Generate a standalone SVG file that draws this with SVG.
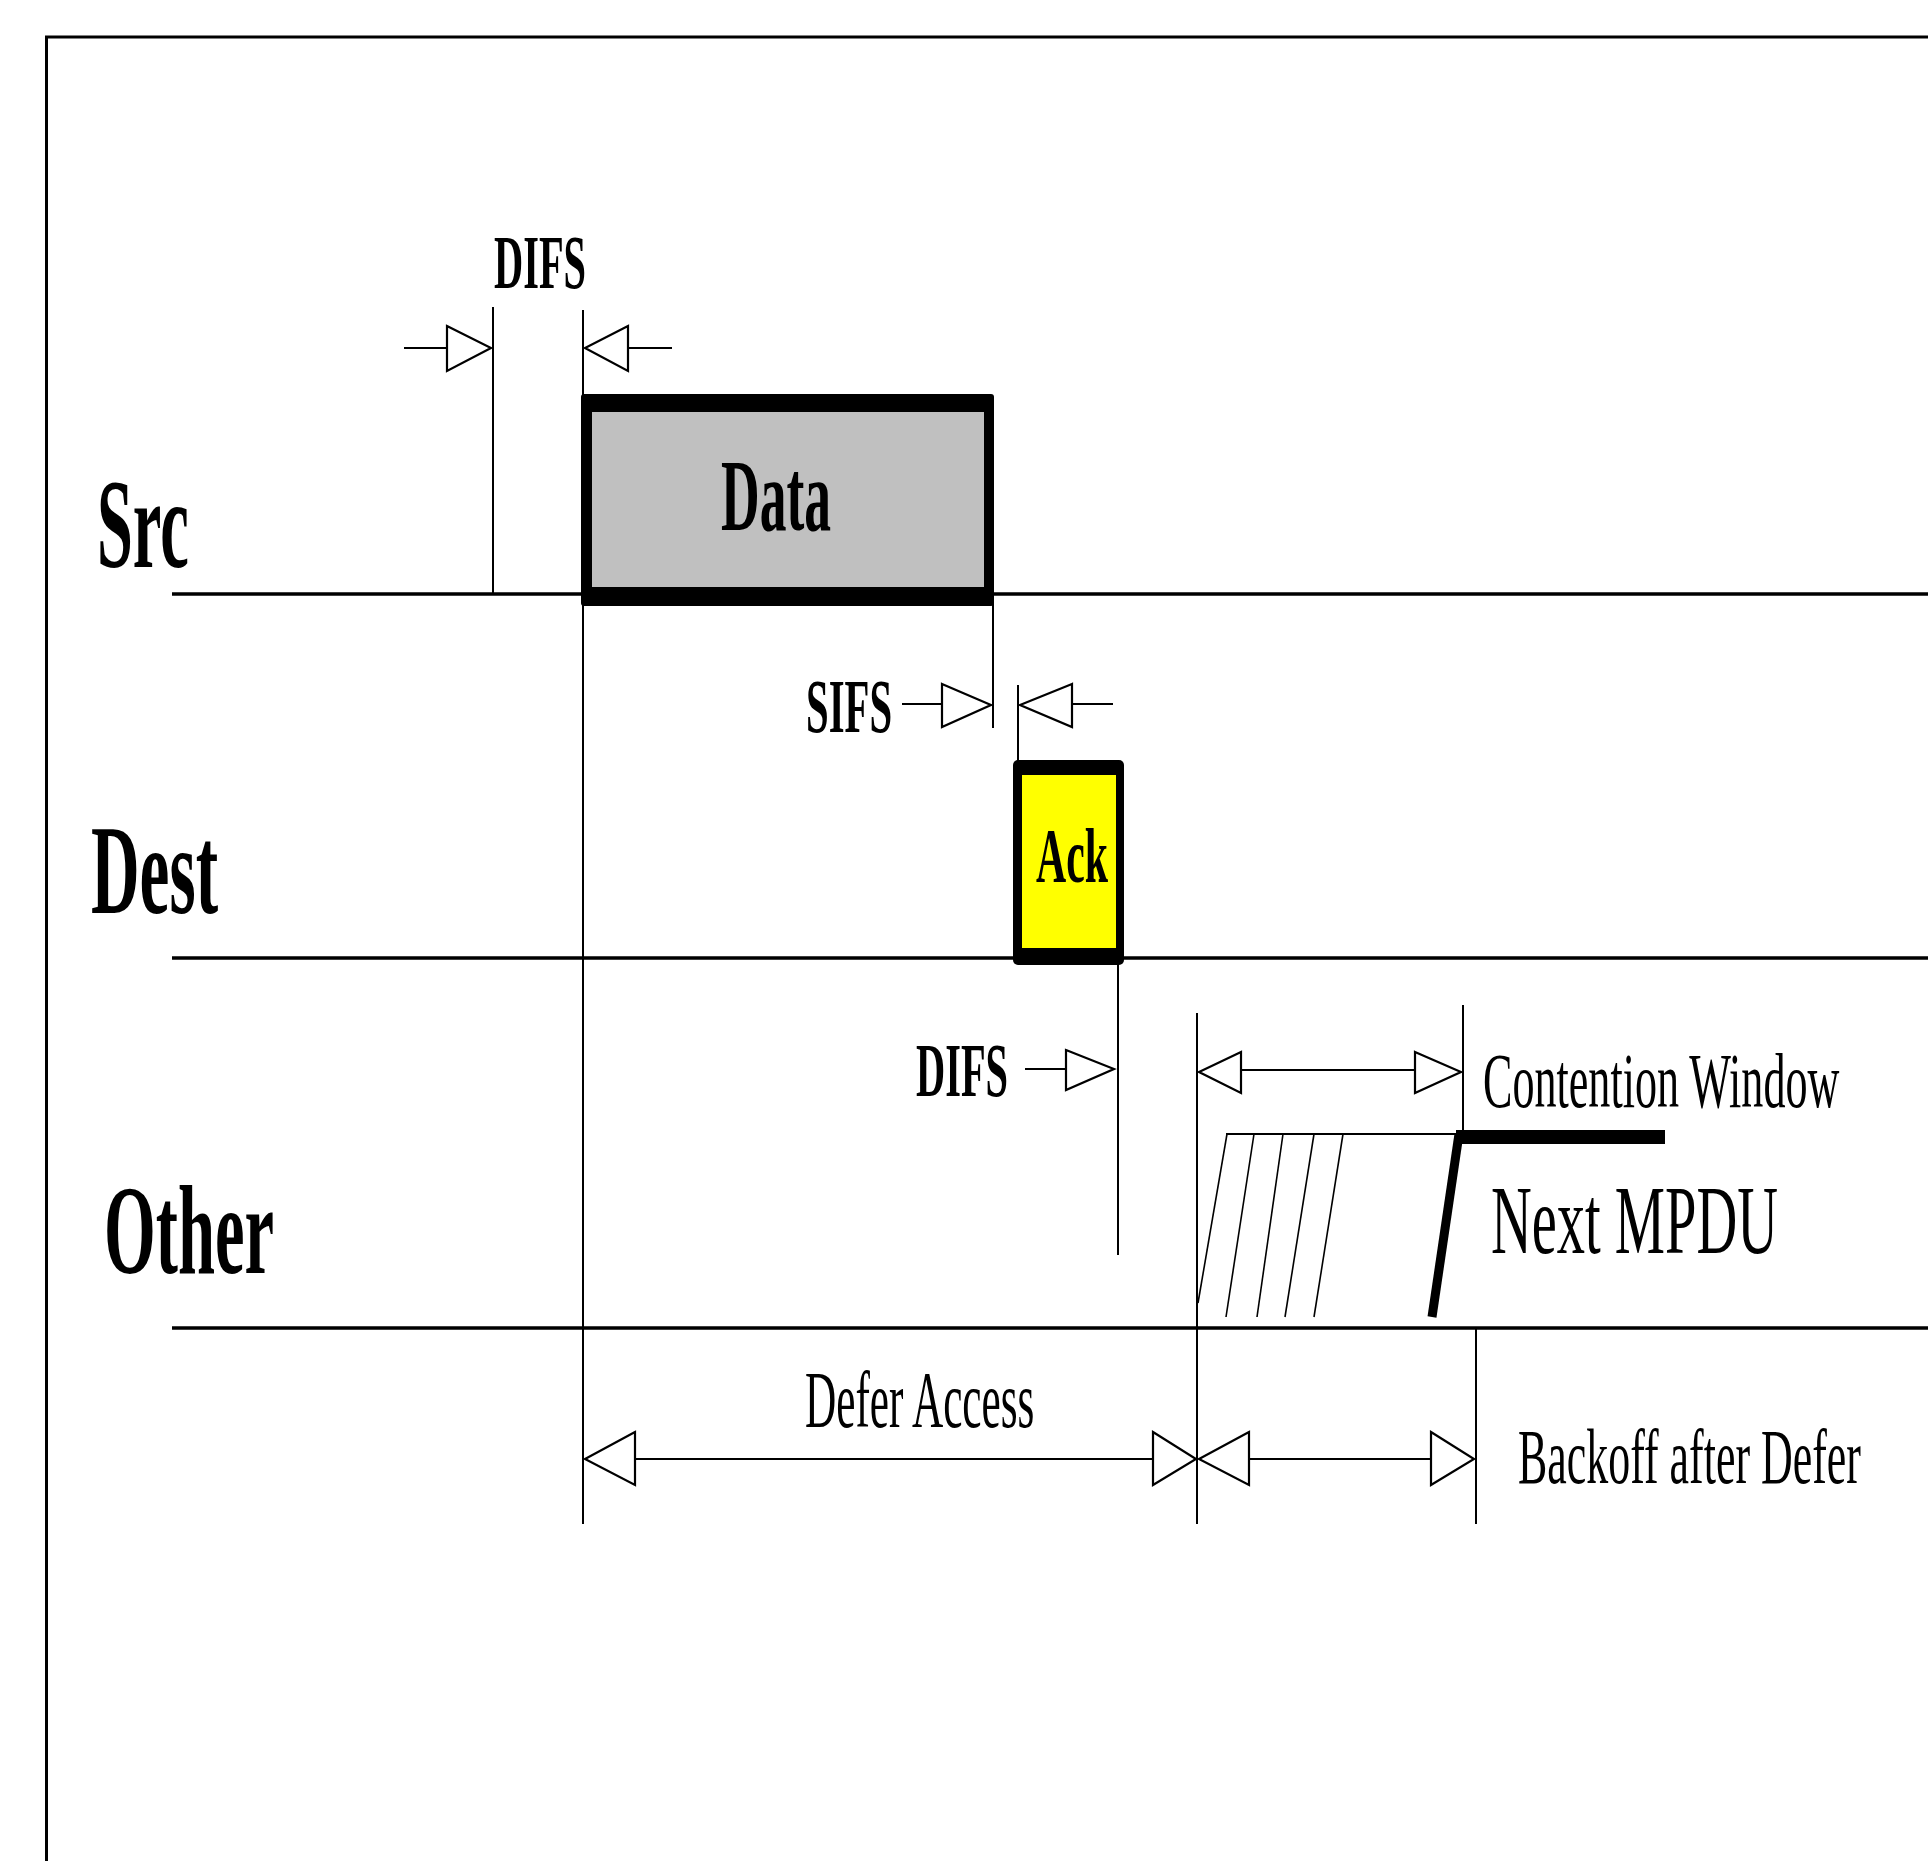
<svg xmlns="http://www.w3.org/2000/svg" width="1928" height="1861" viewBox="0 0 1928 1861">
<style>
.t{font-family:"Liberation Serif","Times New Roman",serif;fill:#000}
.b{font-weight:bold}
.ln{stroke:#000;stroke-width:2;fill:none}
.lane{stroke:#000;stroke-width:3.5;fill:none}
.ah{fill:#fff;stroke:#000;stroke-width:2.2;stroke-linejoin:miter}
</style>
<rect x="0" y="0" width="1928" height="1861" fill="#fff"/>
<rect id="frame" x="46.5" y="37" width="2000" height="2000" fill="none" stroke="#000" stroke-width="3"/>

<g id="lanes">
  <line class="lane" x1="172" y1="594" x2="1928" y2="594"/>
  <line class="lane" x1="172" y1="958" x2="1928" y2="958"/>
  <line class="lane" x1="172" y1="1328" x2="1928" y2="1328"/>
</g>

<g id="label-src"><text class="t b" transform="translate(97,567) scale(0.507,1)" font-size="127">Src</text></g>
<g id="label-dest"><text class="t b" transform="translate(91,913) scale(0.53,1)" font-size="127">Dest</text></g>
<g id="label-other"><text class="t b" transform="translate(104,1273) scale(0.524,1)" font-size="127">Other</text></g>

<g id="connectors">
  <line class="ln" x1="493" y1="307" x2="493" y2="594"/>
  <line class="ln" x1="583" y1="310" x2="583" y2="1524"/>
  <line class="ln" x1="993" y1="602" x2="993" y2="728"/>
  <line class="ln" x1="1018" y1="685" x2="1018" y2="762"/>
  <line class="ln" x1="1118" y1="962" x2="1118" y2="1255"/>
  <line class="ln" x1="1197" y1="1013" x2="1197" y2="1524"/>
  <line class="ln" x1="1463" y1="1005" x2="1463" y2="1132"/>
  <line class="ln" x1="1476" y1="1328" x2="1476" y2="1524"/>

  <line class="ln" x1="404" y1="348" x2="447" y2="348"/>
  <polygon class="ah" points="447,326 491,348 447,371"/>
  <polygon class="ah" points="628,326 585,348 628,371"/>
  <line class="ln" x1="628" y1="348" x2="672" y2="348"/>

  <line class="ln" x1="902" y1="704" x2="942" y2="704"/>
  <polygon class="ah" points="942,684 991,705 942,727"/>
  <polygon class="ah" points="1072,684 1020,705 1072,727"/>
  <line class="ln" x1="1072" y1="704" x2="1113" y2="704"/>

  <line class="ln" x1="1025" y1="1069" x2="1066" y2="1069"/>
  <polygon class="ah" points="1066,1050 1114,1069 1066,1090"/>

  <polygon class="ah" points="1241,1052 1199,1072 1241,1093"/>
  <line class="ln" x1="1241" y1="1070" x2="1415" y2="1070" stroke-width="3"/>
  <polygon class="ah" points="1415,1052 1461,1072 1415,1093"/>

  <polygon class="ah" points="635,1432 585,1459 635,1485"/>
  <line class="ln" x1="635" y1="1459" x2="1153" y2="1459" stroke-width="3"/>
  <polygon class="ah" points="1153,1432 1196,1459 1153,1485"/>

  <polygon class="ah" points="1249,1432 1199,1459 1249,1485"/>
  <line class="ln" x1="1249" y1="1459" x2="1431" y2="1459" stroke-width="3"/>
  <polygon class="ah" points="1431,1432 1474,1459 1431,1485"/>
</g>

<g id="data">
  <rect x="581" y="394" width="413" height="212" fill="#000" rx="3"/>
  <rect x="592" y="412" width="392" height="175" fill="#c0c0c0"/>
  <text class="t b" transform="translate(721,530) scale(0.53,1)" font-size="101">Data</text>
</g>

<g id="ack">
  <rect x="1013" y="760" width="111" height="205" fill="#000" rx="5"/>
  <rect x="1022" y="775" width="94" height="173" fill="#ffff00"/>
  <text class="t b" transform="translate(1036,882) scale(0.536,1)" font-size="78">Ack</text>
</g>

<g id="label-difs1"><text class="t b" transform="translate(494,288) scale(0.525,1)" font-size="77">DIFS</text></g>
<g id="label-sifs"><text class="t b" transform="translate(806,732) scale(0.536,1)" font-size="76">SIFS</text></g>
<g id="label-difs2"><text class="t b" transform="translate(916,1096) scale(0.525,1)" font-size="77">DIFS</text></g>
<g id="label-cw"><text class="t" transform="translate(1483,1107) scale(0.5655,1)" font-size="78">Contention Window</text></g>
<g id="label-defer"><text class="t" transform="translate(805,1427) scale(0.541,1)" font-size="80">Defer Access</text></g>
<g id="label-backoff"><text class="t" transform="translate(1518,1483) scale(0.563,1)" font-size="78">Backoff after Defer</text></g>

<g id="next-mpdu">
  <line class="ln" x1="1226" y1="1134" x2="1459" y2="1134"/>
  <g stroke="#000" stroke-width="1.6">
    <line x1="1227" y1="1134" x2="1198" y2="1303"/>
    <line x1="1254" y1="1134" x2="1226" y2="1317"/>
    <line x1="1283" y1="1134" x2="1257" y2="1317"/>
    <line x1="1314" y1="1134" x2="1285" y2="1317"/>
    <line x1="1343" y1="1134" x2="1314" y2="1317"/>
  </g>
  <line x1="1456" y1="1137" x2="1665" y2="1137" stroke="#000" stroke-width="14"/>
  <line x1="1459" y1="1134" x2="1432" y2="1317" stroke="#000" stroke-width="9"/>
  <text class="t" transform="translate(1491,1253) scale(0.576,1)" font-size="98">Next MPDU</text>
</g>
</svg>
